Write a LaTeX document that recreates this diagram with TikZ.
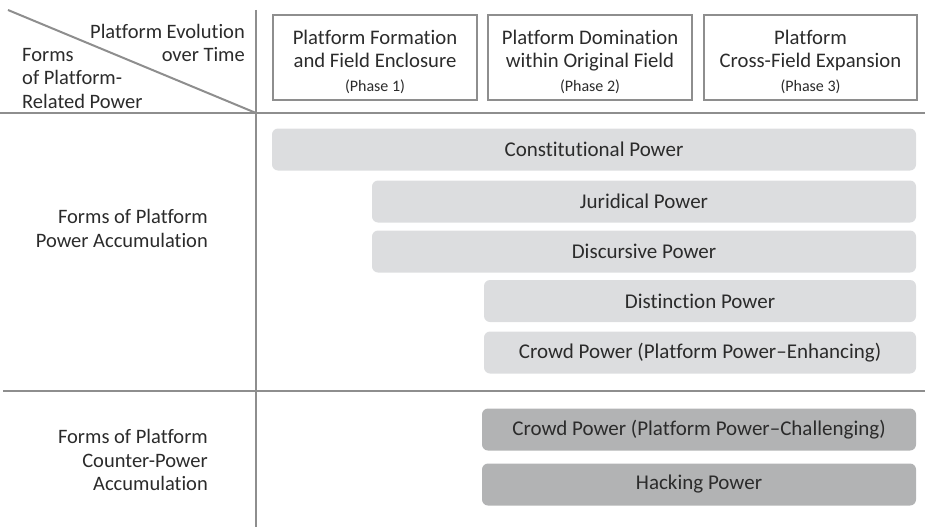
\documentclass[tikz,border=0pt]{standalone}
\usepackage{fontspec}
\setmainfont{Carlito}[Ligatures={NoCommon,NoContextual}]
\definecolor{textgray}{HTML}{2B2B2B}
\definecolor{linegray}{HTML}{8E8E8E}
\definecolor{lightbar}{HTML}{DCDDDF}
\definecolor{darkbar}{HTML}{B2B3B4}
\newcommand{\phasefont}{\fontsize{16}{19}\selectfont}
\begin{document}
\begin{tikzpicture}[x=1pt,y=-1pt,
  every node/.style={text=textgray, font=\fontsize{20.5}{23.5}\selectfont},
  grid line/.style={draw=linegray, line width=2.5pt},
  phase box/.style={draw=linegray, line width=2.5pt, minimum height=85pt,
    inner sep=0pt},
  phase text/.style={align=center, inner sep=0pt,
    font=\fontsize{20.7}{23.5}\selectfont},
  power bar/.style={fill=lightbar, rounded corners=6pt, minimum height=42pt,
    inner sep=0pt, font=\fontsize{21}{24}\selectfont},
  counter bar/.style={power bar, fill=darkbar},
  row label/.style={align=right, anchor=east, inner sep=0pt}]
  \useasboundingbox (0,0) rectangle (925,527);

  % grid
  \coordinate (corner) at (256,113);
  \draw[grid line, line width=2pt] (256,10) -- (256,527);
  \draw[grid line] (0,113) -- (925,113);
  \draw[grid line] (3,391) -- (925,391);
  \draw[draw=linegray, line width=2pt] (8,10) -- (corner);

  % corner header
  \node[row label] (evolution) at (245,43) {Platform Evolution\\over Time};
  \node[align=left, anchor=west, inner sep=0pt] (forms) at (22,78)
    {Forms\\of Platform-\\Related Power};

  % phases
  \node[phase box, minimum width=204pt] (phase1) at (375,57.5) {};
  \node[phase box, minimum width=204pt] (phase2) at (590,57.5) {};
  \node[phase box, minimum width=213pt] (phase3) at (810.5,57.5) {};
  \node[phase text] (phase1text) at ([yshift=-4pt]phase1.center)
    {Platform Formation\\and Field Enclosure\\{\phasefont (Phase 1)}};
  \node[phase text] (phase2text) at ([yshift=-4pt]phase2.center)
    {Platform Domination\\within Original Field\\{\phasefont (Phase 2)}};
  \node[phase text] (phase3text) at ([yshift=-4pt]phase3.center)
    {Platform\\Cross-Field Expansion\\{\phasefont (Phase 3)}};

  % power accumulation
  \node[row label] (accumulation) at (208,228.5)
    {Forms of Platform\\Power Accumulation};
  \node[power bar, minimum width=644pt] (constitutional) at (594,149.5)
    {Constitutional Power};
  \node[power bar, minimum width=544pt] (juridical) at (644,201.5)
    {Juridical Power};
  \node[power bar, minimum width=544pt] (discursive) at (644,251.5)
    {Discursive Power};
  \node[power bar, minimum width=432pt] (distinction) at (700,301)
    {Distinction Power};
  \node[power bar, minimum width=432pt] (crowdplus) at (700,352.5)
    {Crowd Power (Platform Power\textendash Enhancing)};

  % counter-power accumulation
  \node[row label] (counter) at (208,460)
    {Forms of Platform\\Counter-Power\\Accumulation};
  \node[counter bar, minimum width=434pt] (crowdminus) at (699,429.5)
    {Crowd Power (Platform Power\textendash Challenging)};
  \node[counter bar, minimum width=434pt] (hacking) at (699,484.5)
    {Hacking Power};
\end{tikzpicture}
\end{document}
